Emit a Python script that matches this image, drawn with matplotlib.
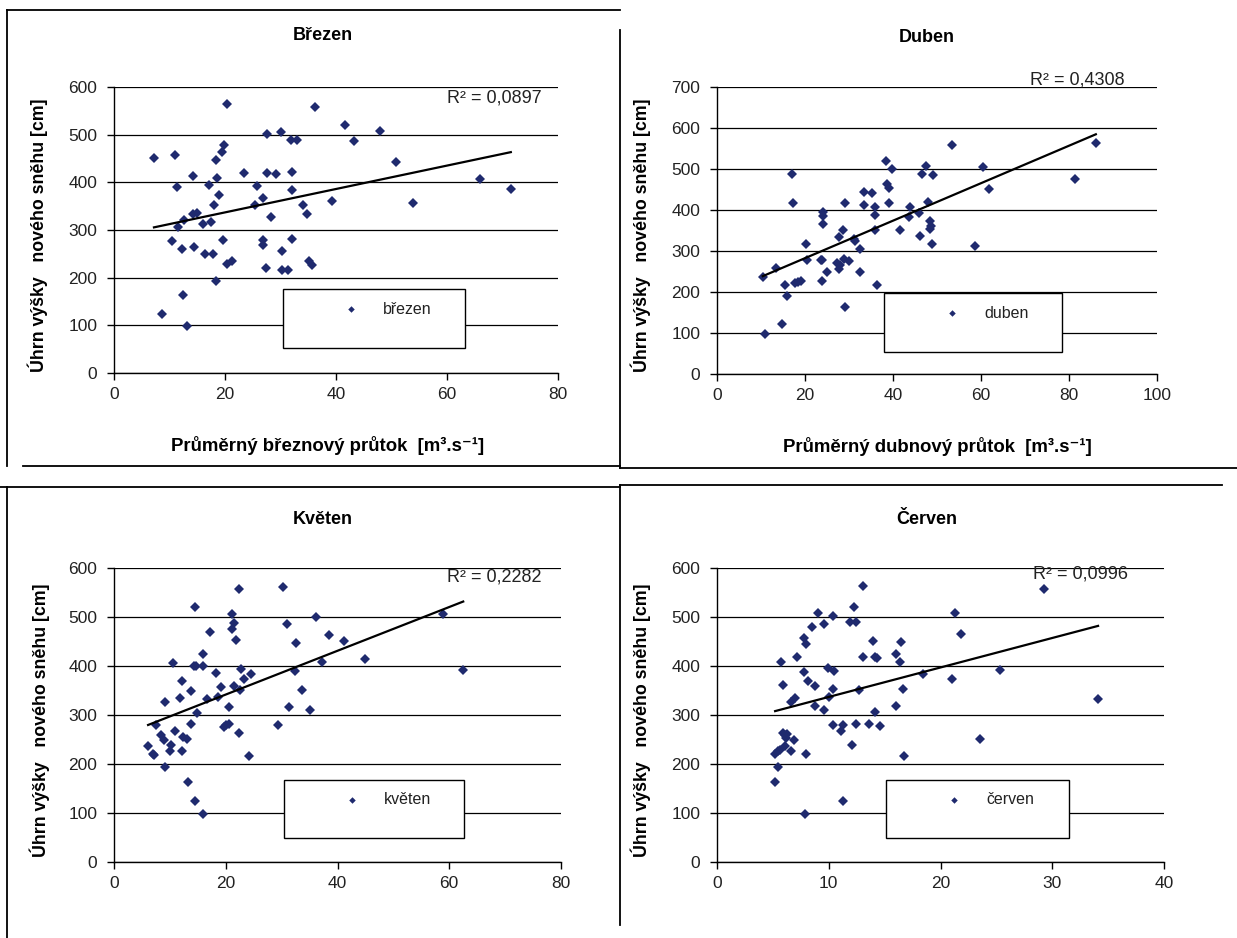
import numpy as np
import matplotlib
matplotlib.use("Agg")
import matplotlib.pyplot as plt
from matplotlib.lines import Line2D
from matplotlib.patches import Rectangle

plt.rcParams['font.family'] = ['Liberation Sans', 'DejaVu Sans']

W, H = 1237, 938

# Březen (March) - mean flow vs. total new snow
brezen_x = [7.2, 11.05, 20.4, 36.3, 41.6, 47.9, 27.6, 30.1, 31.9, 32.9, 43.2, 19.9, 19.5, 18.3, 50.8,
            14.2, 23.4, 27.6, 29.1, 32.1, 18.6, 17.1, 11.4, 25.7, 19.0, 26.8, 32.1, 65.9, 71.5, 39.3,
            53.9, 18.1, 25.4, 34.0, 14.2, 14.9, 34.7, 28.2, 12.7, 16.0, 17.4, 11.6, 10.5, 12.3, 14.4,
            16.4, 17.8, 19.6, 26.8, 26.8, 32.1, 30.3, 20.4, 21.3, 27.3, 30.3, 31.4, 35.2, 35.6, 18.3,
            12.5, 8.6, 13.2]
brezen_y = [451, 457, 564, 557, 521, 508, 502, 505, 489, 489, 487, 479, 464, 446, 443,
            414, 420, 420, 417, 422, 409, 395, 390, 393, 373, 368, 384, 406, 387, 360,
            357, 352, 352, 352, 334, 336, 334, 328, 320, 312, 317, 306, 277, 261, 264,
            250, 250, 279, 280, 269, 282, 255, 228, 236, 220, 217, 217, 236, 226, 193,
            164, 124, 99]

# Duben (April)
duben_x = [10.4, 10.9, 13.4, 15.5, 15.8, 14.7, 17.0, 17.3, 17.8, 18.4, 19.2, 20.2, 20.5, 23.6, 23.9,
           24.2, 24.2, 24.2, 24.9, 23.9, 27.3, 27.7, 28.0, 27.8, 28.6, 28.9, 30.1, 29.2, 29.2, 31.2,
           31.3, 32.4, 32.4, 33.3, 33.3, 35.2, 35.9, 35.9, 36.0, 36.3, 38.3, 38.6, 39.1, 39.1, 39.8,
           41.5, 43.6, 43.9, 45.9, 46.1, 46.7, 47.5, 48.0, 48.5, 48.7, 48.3, 48.8, 49.1, 53.4, 58.7,
           60.4, 61.8, 81.3, 86.1]
duben_y = [236, 97, 258, 217, 191, 122, 488, 417, 221, 224, 227, 317, 279, 277, 279,
           396, 386, 367, 248, 227, 271, 255, 267, 333, 352, 281, 276, 416, 164, 329,
           324, 304, 248, 445, 413, 442, 407, 389, 351, 217, 520, 464, 453, 417, 501,
           351, 382, 407, 392, 336, 488, 508, 419, 373, 360, 354, 317, 485, 558, 311,
           504, 451, 476, 563]

# Květen (May)
kveten_x = [6.1, 7.0, 7.2, 7.6, 8.5, 8.9, 9.2, 10.0, 10.2, 9.1, 10.6, 10.9, 11.8, 12.2, 12.2,
            12.4, 13.1, 13.2, 13.8, 13.8, 14.3, 14.6, 14.5, 14.5, 14.9, 15.9, 15.9, 15.9, 16.6, 17.1,
            18.3, 18.7, 19.1, 19.6, 20.0, 20.5, 20.5, 21.1, 21.4, 21.1, 21.9, 21.4, 22.3, 22.6, 22.8,
            22.4, 23.3, 24.2, 24.6, 29.4, 30.2, 31.0, 31.3, 32.5, 32.4, 33.6, 35.0, 36.1, 37.3, 38.4,
            41.1, 44.9, 58.9, 62.5]
kveten_y = [237, 220, 219, 279, 259, 248, 193, 226, 238, 326, 407, 268, 334, 369, 226,
            255, 251, 163, 350, 281, 399, 399, 520, 124, 305, 424, 400, 97, 332, 469,
            386, 336, 357, 276, 279, 281, 317, 506, 488, 475, 454, 360, 557, 351, 394,
            263, 373, 216, 384, 279, 562, 486, 317, 447, 389, 352, 310, 501, 408, 463,
            452, 415, 507, 391]

# Červen (June)
cerven_x = [5.2, 5.2, 5.45, 5.63, 5.45, 5.7, 5.9, 5.9, 6.1, 6.3, 6.2, 6.1, 6.6, 6.9, 6.6,
            7.0, 7.2, 7.8, 8.0, 7.8, 8.1, 8.0, 7.9, 8.5, 8.8, 8.8, 9.0, 9.6, 9.6, 9.9,
            10.0, 10.4, 10.5, 10.4, 10.4, 11.1, 11.3, 11.3, 11.9, 12.4, 12.3, 12.1, 12.4, 12.7, 13.1,
            13.1, 13.6, 14.0, 14.1, 14.3, 14.1, 14.6, 16.0, 16.5, 16.4, 16.6, 16.0, 16.7, 18.4, 21.0,
            21.3, 21.8, 23.5, 25.3, 29.3, 34.1]
cerven_y = [163, 220, 226, 228, 193, 409, 361, 264, 260, 261, 254, 237, 227, 249, 326,
            334, 419, 458, 445, 388, 369, 221, 98, 480, 359, 319, 508, 486, 311, 395,
            337, 503, 390, 353, 279, 268, 280, 125, 489, 489, 521, 238, 282, 352, 563,
            419, 282, 452, 418, 416, 306, 277, 424, 448, 409, 353, 319, 217, 384, 374,
            508, 466, 251, 392, 558, 332]

titles = ['Březen', 'Duben', 'Květen', 'Červen']
legend_names = ['březen', 'duben', 'květen', 'červen']
r2_labels = ['R² = 0,0897', 'R² = 0,4308', 'R² = 0,2282', 'R² = 0,0996']
xlabels = ['Průměrný březnový průtok  [m³.s⁻¹]', 'Průměrný dubnový průtok  [m³.s⁻¹]', None, None]
ylabel = 'Úhrn výšky   nového sněhu [cm]'
x_limits = [80, 100, 80, 40]
x_steps = [20, 20, 20, 10]
y_limits = [600, 700, 600, 600]

point_color = '#1f2a6e'

fig = plt.figure(figsize=(W / 100, H / 100), dpi=100)


def fx(x):
    return x / W


def fy(y):
    return 1 - y / H


def frame_line(x0, y0, x1, y1):
    fig.add_artist(Line2D([fx(x0), fx(x1)], [fy(y0), fy(y1)], color='black', lw=1.3))


# panel borders (pixel coordinates of the original page)
frame_line(7, 10, 620, 10)
frame_line(7, 10, 7, 466)
frame_line(23, 466, 620, 466)
frame_line(620, 30, 620, 468)
frame_line(620, 468, 1237, 468)
frame_line(0, 487, 620, 487)
frame_line(7, 487, 7, 938)
frame_line(620, 485, 1222, 485)
frame_line(620, 485, 620, 925)


def draw_panel(i, xs, ys, box, title_xy, r2_xy, leg_box, xlabel_xy, ylabel_x):
    left, top, right, bottom = box
    ax = fig.add_axes([fx(left), fy(bottom), (right - left) / W, (bottom - top) / H])
    xs = np.array(xs)
    ys = np.array(ys)

    ax.plot(xs, ys, 'D', color=point_color, ms=4.6, mew=0, zorder=4)
    k, q = np.polyfit(xs, ys, 1)
    xx = np.array([xs.min(), xs.max()])
    ax.plot(xx, k * xx + q, color='black', lw=1.6, zorder=5)

    ax.set_xlim(0, x_limits[i])
    ax.set_ylim(0, y_limits[i])
    ax.set_xticks(np.arange(0, x_limits[i] + 1, x_steps[i]))
    ax.set_yticks(np.arange(0, y_limits[i] + 1, 100))
    ax.yaxis.grid(True, color='black', lw=0.9)
    ax.set_axisbelow(True)
    for s in ['top', 'right']:
        ax.spines[s].set_visible(False)
    for s in ['left', 'bottom']:
        ax.spines[s].set_linewidth(1.0)
    ax.tick_params(axis='both', direction='out', length=5, width=1.0, labelsize=12.5, colors='black')
    ax.tick_params(axis='y', pad=7)
    ax.tick_params(axis='x', pad=5)
    for lab in ax.get_xticklabels() + ax.get_yticklabels():
        lab.set_color('#222222')

    # legend box drawn by hand, like the spreadsheet one
    lx0, ly0, lx1, ly1 = leg_box

    def afx(x):
        return (x - left) / (right - left)

    def afy(y):
        return (bottom - y) / (bottom - top)

    ax.add_patch(Rectangle((afx(lx0), afy(ly1)), afx(lx1) - afx(lx0), afy(ly0) - afy(ly1),
                           transform=ax.transAxes, facecolor='white', edgecolor='black',
                           lw=1.0, zorder=3))
    ax.plot([afx(lx0 + 68)], [afy(ly0 + 20)], 'D', color=point_color, ms=3.3, mew=0,
            transform=ax.transAxes, zorder=6)
    ax.text(afx(lx0 + 100), afy(ly0 + 20), legend_names[i], transform=ax.transAxes,
            fontsize=11.5, ha='left', va='center', color='#222222', zorder=6)

    fig.text(fx(title_xy[0]), fy(title_xy[1]), titles[i], fontsize=13, fontweight='bold',
             ha='center', va='center')
    fig.text(fx(r2_xy[0]), fy(r2_xy[1]), r2_labels[i], fontsize=13, ha='left', va='center',
             color='#222222')
    fig.text(fx(ylabel_x), fy((top + bottom) / 2 + 5), ylabel, fontsize=12.8, fontweight='bold',
             rotation=90, ha='center', va='center')
    if xlabels[i] is not None:
        fig.text(fx(xlabel_xy[0]), fy(xlabel_xy[1]), xlabels[i], fontsize=13.4, fontweight='bold',
                 ha='center', va='center')


draw_panel(0, brezen_x, brezen_y, (114, 87, 558, 373), (323, 36), (447, 98),
           (283, 289, 465, 348), (328, 445), 38)
draw_panel(1, duben_x, duben_y, (717, 87, 1157, 374), (927, 37), (1030, 80),
           (884, 293, 1062, 352), (937, 447), 641)
draw_panel(2, kveten_x, kveten_y, (114, 568, 561, 862), (323, 520), (447, 577),
           (284, 780, 464, 838), None, 40)
draw_panel(3, cerven_x, cerven_y, (717, 568, 1164, 862), (927, 520), (1033, 574),
           (886, 780, 1069, 838), None, 641)

fig.savefig('out.png', dpi=100)
